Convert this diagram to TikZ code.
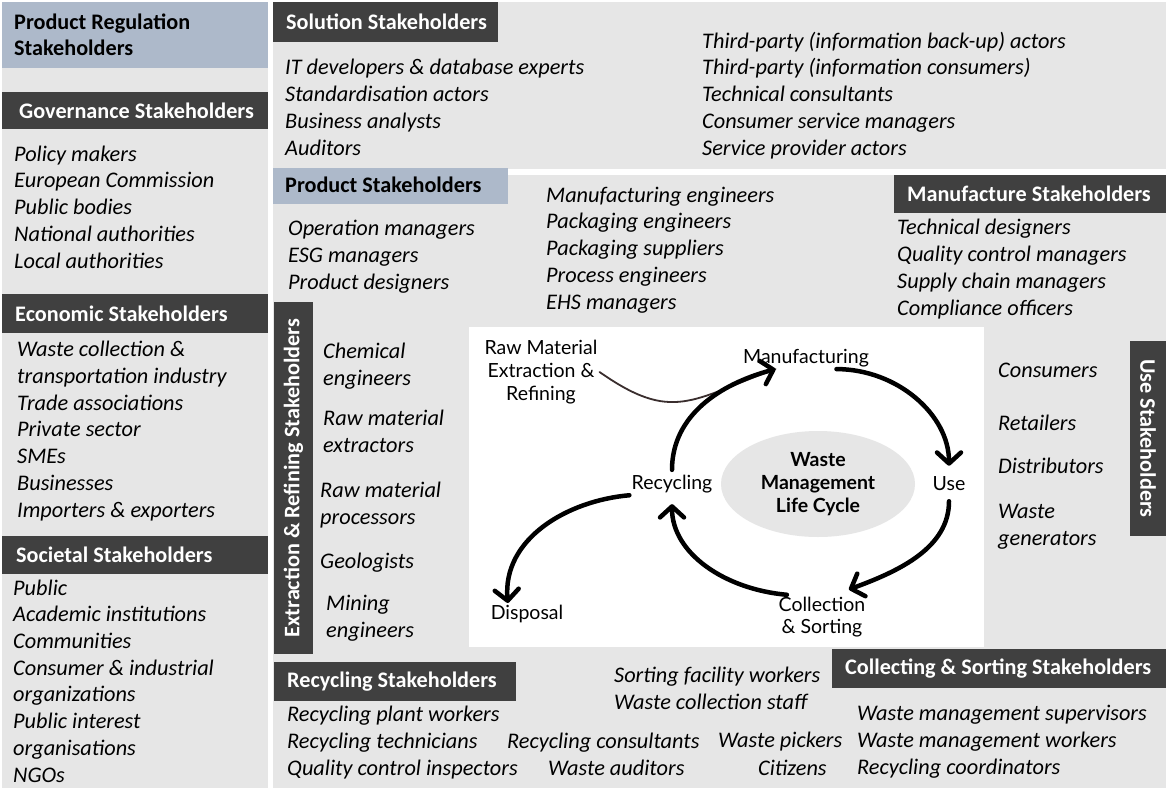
\documentclass[tikz,border=0pt]{standalone}
\usepackage{fontspec}
\setmainfont{Carlito}
\newfontfamily\cyclefont{Lato}
\usetikzlibrary{arrows.meta,positioning,shapes.geometric}

\definecolor{panelgray}{HTML}{E6E6E6}
\definecolor{headdark}{HTML}{404040}
\definecolor{headblue}{HTML}{ADB9CA}
\definecolor{rawline}{HTML}{3A2E2E}

\newcommand{\headfont}{\fontsize{22.2}{26}\selectfont\bfseries}
\newcommand{\stakefont}{\fontsize{22.3}{26.7}\selectfont\itshape}
\newcommand{\stagefont}{\cyclefont\fontsize{19.5}{22.8}\selectfont}

\tikzset{
  panel/.style    = {fill=panelgray},
  headbox/.style  = {inner sep=0pt, anchor=north west},
  darkbox/.style  = {headbox, fill=headdark},
  bluebox/.style  = {headbox, fill=headblue},
  headtext/.style = {inner sep=0pt, align=left, text=white, font=\headfont},
  sidehead/.style = {fill=headdark, text=white, font=\headfont, inner sep=0pt},
  stake/.style    = {inner sep=0pt, align=left, anchor=base west, font=\stakefont},
  stage/.style    = {inner sep=2pt, align=center, font=\stagefont},
  cyclearrow/.style = {line width=4.5pt, line cap=round,
                       -{Straight Barb[length=11pt,width=24pt,round]}}
}

\begin{document}
\begin{tikzpicture}[x=1pt, y=-1pt]
\useasboundingbox (0,0) rectangle (1168,790);
\fill[white] (0,0) rectangle (1168,790);

% gray panels and the white box of the cycle
\fill[panel] (2,2) rectangle (268,788);
\fill[panel] (273,2) rectangle (1166,169);
\fill[panel] (273,175) rectangle (1166,788);
\fill[white] (469,327) rectangle (984,647);

% left column (lists are placed by the baseline of their last line)
\node[bluebox, minimum width=266pt, minimum height=66pt] (prhead) at (2,2) {};
\node[headtext, text=black, right=12pt of prhead.west] (prtext) {Product Regulation\\Stakeholders};
\node[darkbox, minimum width=266pt, minimum height=37pt] (govhead) at (2,92) {};
\node[headtext, right=17pt of govhead.west] (govtext) {Governance Stakeholders};
\node[darkbox, minimum width=266pt, minimum height=39pt] (econhead) at (2,294) {};
\node[headtext, right=13pt of econhead.west] (econtext) {Economic Stakeholders};
\node[darkbox, minimum width=266pt, minimum height=38pt] (sochead) at (2,536) {};
\node[headtext, right=14pt of sochead.west] (soctext) {Societal Stakeholders};

\node[stake] (govlist) at (14,268) {Policy makers\\European Commission\\Public bodies\\National authorities\\Local authorities};
\node[stake] (econlist) at (17,517) {Waste collection \&\\transportation industry\\Trade associations\\Private sector\\SMEs\\Businesses\\Importers \& exporters};
\node[stake] (soclist) at (13,782) {Public\\Academic institutions\\Communities\\Consumer \& industrial\\organizations\\Public interest\\organisations\\NGOs};

% solution stakeholders, top
\node[darkbox, minimum width=225pt, minimum height=40pt] (solhead) at (273,2) {};
\node[headtext, right=13pt of solhead.west] (soltext) {Solution Stakeholders};
\node[stake] (sollist1) at (285,155) {IT developers \& database experts\\Standardisation actors\\Business analysts\\Auditors};
\node[stake] (sollist2) at (702,155) {Third-party (information back-up) actors\\Third-party (information consumers)\\Technical consultants\\Consumer service managers\\Service provider actors};

% product and manufacture stakeholders
\node[bluebox, minimum width=235pt, minimum height=36pt] (prodhead) at (273,168) {};
\node[headtext, text=black, right=12pt of prodhead.west, yshift=1pt] (prodtext) {Product Stakeholders};
\node[stake] (prodlist) at (288,289) {Operation managers\\ESG managers\\Product designers};
\node[stake] (engilist) at (546,309) {Manufacturing engineers\\Packaging engineers\\Packaging suppliers\\Process engineers\\EHS managers};
\node[darkbox, minimum width=272pt, minimum height=38pt] (manfhead) at (894,175) {};
\node[headtext, right=13pt of manfhead.west] (manftext) {Manufacture Stakeholders};
\node[stake] (manflist) at (897,315) {Technical designers\\Quality control managers\\Supply chain managers\\Compliance officers};

% extraction and use, the two side bars
\node[sidehead, rotate=90, minimum width=352pt, minimum height=39pt] (exthead) at (293.5,478) {Extraction \& Refining Stakeholders};
\foreach \name/\xx/\yy/\txt in {chem/323/385/{Chemical\\engineers}, rext/323/452/{Raw material\\extractors},
    rproc/320/524/{Raw material\\processors}, geol/320/568/{Geologists}, mining/326/637/{Mining\\engineers}}
  \node[stake] (\name) at (\xx,\yy) {\txt};

\node[sidehead, rotate=-90, minimum width=195pt, minimum height=36pt] (usehead) at (1148,438.5) {Use Stakeholders};
\foreach \name/\yy/\txt in {cons/377/{Consumers}, retail/430/{Retailers}, distr/473/{Distributors}, wgen/545/{Waste\\generators}}
  \node[stake] (\name) at (998,\yy) {\txt};

% recycling and collecting stakeholders, bottom
\node[darkbox, minimum width=242pt, minimum height=39pt] (rechead) at (274,662) {};
\node[headtext, right=13pt of rechead.west] (rectext) {Recycling Stakeholders};
\node[stake] (reclist) at (287,775) {Recycling plant workers\\Recycling technicians\\Quality control inspectors};
\node[stake] (rconsult) at (507,748) {Recycling consultants};
\node[stake] (waudit) at (548,775) {Waste auditors};
\node[stake] (sortlist) at (614,709) {Sorting facility workers\\Waste collection staff};
\node[stake] (wpick) at (718,747) {Waste pickers};
\node[stake] (citiz) at (758,775) {Citizens};
\node[darkbox, minimum width=334pt, minimum height=39pt] (collhead) at (832,649) {};
\node[headtext, right=13pt of collhead.west] (colltext) {Collecting \& Sorting Stakeholders};
\node[stake] (colllist) at (857,774) {Waste management supervisors\\Waste management workers\\Recycling coordinators};

% the life cycle
\node[ellipse, fill=panelgray, minimum width=194pt, minimum height=106pt, align=center,
      font=\stagefont\bfseries] (life) at (818,484) {Waste\\Management\\Life Cycle};
\node[stage] (raw) at (541,372) {Raw Material\\Extraction \&\\Refining};
\node[stage] (manu) at (806,358) {Manufacturing};
\node[stage] (use) at (949,484) {Use};
\node[stage] (recyc) at (672,484) {Recycling};
\node[stage] (coll) at (822,617) {Collection\\\& Sorting};
\node[stage] (disp) at (527,614) {Disposal};
\coordinate (collin) at ([yshift=5pt]coll.40);

\draw[rawline, line width=1.8pt, line cap=round] (raw.east) to[out=-35, in=200, looseness=1.3] (manu.200);
% cycle arrows: from / to / out / in / shorten at start / shorten at end
\foreach \from/\to/\o/\i/\s/\e in {recyc.north/manu.200/90/195/3pt/0pt,
    manu.-20/use.north/0/90/0pt/9pt,
    use.south/collin/-90/20/8pt/0pt,
    coll.150/recyc.south/175/-90/-4pt/9pt,
    recyc.195/disp.150/185/95/1pt/0pt}
  \draw[cyclearrow, shorten <=\s, shorten >=\e] (\from) to[out=\o, in=\i] (\to);
\end{tikzpicture}
\end{document}
